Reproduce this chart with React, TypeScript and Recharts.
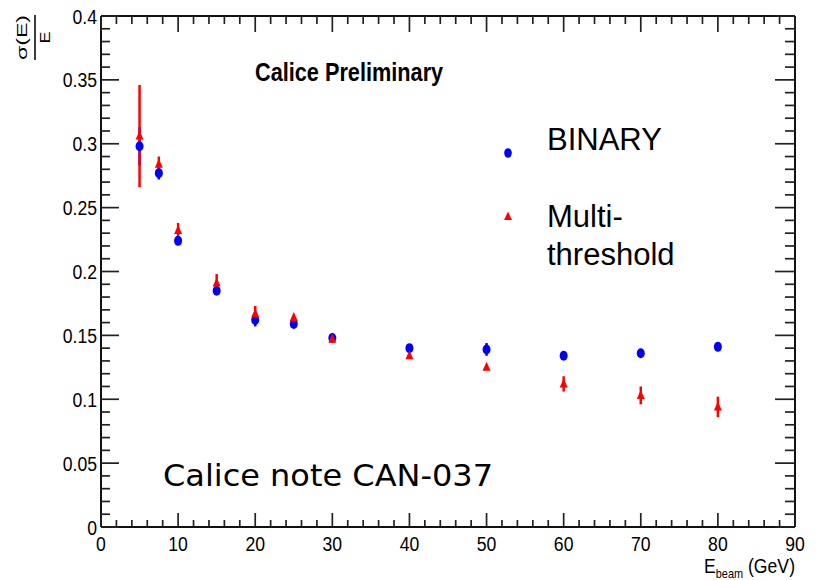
import React from "react";
import { ScatterChart, Scatter, XAxis, YAxis, ErrorBar } from "recharts";

// ---------- data ----------
const energies = [5, 7.5, 10, 15, 20, 25, 30, 40, 50, 60, 70, 80];
const binaryRes = [0.298, 0.277, 0.224, 0.185, 0.162, 0.159, 0.148, 0.14, 0.139, 0.134, 0.136, 0.141];
const binaryErr = [0.015, 0.005, 0.003, 0.003, 0.005, 0.002, 0.002, 0.002, 0.005, 0.002, 0.002, 0.002];
const multiRes = [0.306, 0.284, 0.232, 0.191, 0.167, 0.164, 0.147, 0.134, 0.125, 0.112, 0.103, 0.094];
const multiErr = [0.04, 0.006, 0.006, 0.007, 0.006, 0.002, 0.001, 0.001, 0.001, 0.006, 0.007, 0.008];

const xTicks = [0, 2, 4, 6, 8, 10, 12, 14, 16, 18, 20, 22, 24, 26, 28, 30, 32, 34, 36, 38, 40, 42, 44, 46, 48, 50, 52, 54, 56, 58, 60, 62, 64, 66, 68, 70, 72, 74, 76, 78, 80, 82, 84, 86, 88, 90];
const xMajorTicks = [0, 10, 20, 30, 40, 50, 60, 70, 80, 90];
const xTickLabels = ["0", "10", "20", "30", "40", "50", "60", "70", "80", "90"];

const yTicks = [0, 0.01, 0.02, 0.03, 0.04, 0.05, 0.06, 0.07, 0.08, 0.09, 0.1, 0.11, 0.12, 0.13, 0.14, 0.15, 0.16, 0.17, 0.18, 0.19, 0.2, 0.21, 0.22, 0.23, 0.24, 0.25, 0.26, 0.27, 0.28, 0.29, 0.3, 0.31, 0.32, 0.33, 0.34, 0.35, 0.36, 0.37, 0.38, 0.39, 0.4];
const yMajorTicks = [0, 0.05, 0.1, 0.15, 0.2, 0.25, 0.3, 0.35, 0.4];
const yTickLabels = ["0", "0.05", "0.1", "0.15", "0.2", "0.25", "0.3", "0.35", "0.4"];

const binaryData = energies.map((e, i) => ({ x: e, y: binaryRes[i], err: binaryErr[i] }));
const multiData = energies.map((e, i) => ({ x: e, y: multiRes[i], err: multiErr[i] }));

const FONT = "'Liberation Sans', Arial, Helvetica, sans-serif";
const SQUEEZE = 0.84;
const TICK_COLOR = "#222";

function majorIndex(majors: number[], v: number) {
  return majors.findIndex((m) => Math.abs(m - v) < 1e-9);
}

function makeTick(side: "left" | "right" | "bottom" | "top") {
  return (props: any) => {
    const { x, y, payload } = props;
    const v = payload.value;
    const isY = side === "left" || side === "right";
    const idx = majorIndex(isY ? yMajorTicks : xMajorTicks, v);
    const major = idx >= 0;
    const lens = { left: [18, 9], right: [20, 10], bottom: [14, 7], top: [16, 8] }[side];
    const len = major ? lens[0] : lens[1];
    let line;
    if (side === "left") line = <line x1={x} x2={x + len} y1={y} y2={y} stroke={TICK_COLOR} strokeWidth={1.7} />;
    else if (side === "right") line = <line x1={x} x2={x - len} y1={y} y2={y} stroke={TICK_COLOR} strokeWidth={1.7} />;
    else if (side === "bottom") line = <line x1={x} x2={x} y1={y} y2={y - len} stroke={TICK_COLOR} strokeWidth={1.7} />;
    else line = <line x1={x} x2={x} y1={y} y2={y + len} stroke={TICK_COLOR} strokeWidth={1.7} />;
    let label = null;
    if (major && side === "left") {
      label = (
        <text transform={`translate(${x - 4},${y}) scale(${SQUEEZE},1)`} textAnchor="end" dy="0.36em" fontSize={21} fontFamily={FONT} fill="#000">
          {yTickLabels[idx]}
        </text>
      );
    } else if (major && side === "bottom") {
      label = (
        <text transform={`translate(${x},${y + 23.5}) scale(${SQUEEZE},1)`} textAnchor="middle" fontSize={21} fontFamily={FONT} fill="#000">
          {xTickLabels[idx]}
        </text>
      );
    }
    return (
      <g>
        {line}
        {label}
      </g>
    );
  };
}

const BlueDot = (props: any) => {
  const { cx, cy } = props;
  if (cx == null || cy == null) return null;
  return <ellipse cx={cx} cy={cy} rx={4} ry={5} fill="#0000ff" />;
};

const RedTriangle = (props: any) => {
  const { cx, cy } = props;
  if (cx == null || cy == null) return null;
  return <polygon points={`${cx},${cy - 5.5} ${cx - 4},${cy + 3.5} ${cx + 4},${cy + 3.5}`} fill="#ff0000" />;
};

const axisLineStyle = { stroke: "#111", strokeWidth: 2 };

export default function App() {
  const W = 817;
  const H = 580;
  return (
    <div style={{ position: "absolute", left: 0, top: 0, width: W, height: H, background: "#fff" }}>
      <ScatterChart width={W} height={H} margin={{ top: 15, right: 21, bottom: 52, left: 100 }}>
        <XAxis
          xAxisId="bottom"
          type="number"
          dataKey="x"
          domain={[0, 90]}
          ticks={xTicks}
          interval={0}
          orientation="bottom"
          height={1}
          allowDataOverflow
          axisLine={axisLineStyle}
          tickLine={false}
          tickSize={0}
          tickMargin={0}
          tick={makeTick("bottom")}
        />
        <XAxis
          xAxisId="top"
          type="number"
          dataKey="x"
          domain={[0, 90]}
          ticks={xTicks}
          interval={0}
          orientation="top"
          height={1}
          allowDataOverflow
          axisLine={axisLineStyle}
          tickLine={false}
          tickSize={0}
          tickMargin={0}
          tick={makeTick("top")}
        />
        <YAxis
          yAxisId="left"
          type="number"
          dataKey="y"
          domain={[0, 0.4]}
          ticks={yTicks}
          interval={0}
          orientation="left"
          width={1}
          allowDataOverflow
          axisLine={axisLineStyle}
          tickLine={false}
          tickSize={0}
          tickMargin={0}
          tick={makeTick("left")}
        />
        <YAxis
          yAxisId="right"
          type="number"
          dataKey="y"
          domain={[0, 0.4]}
          ticks={yTicks}
          interval={0}
          orientation="right"
          width={1}
          allowDataOverflow
          axisLine={axisLineStyle}
          tickLine={false}
          tickSize={0}
          tickMargin={0}
          tick={makeTick("right")}
        />
        <Scatter name="BINARY" data={binaryData} xAxisId="bottom" yAxisId="left" shape={BlueDot} isAnimationActive={false}>
          <ErrorBar dataKey="err" direction="y" width={0} stroke="#0000ff" strokeWidth={2.5} isAnimationActive={false} />
        </Scatter>
        <Scatter name="Multi-threshold" data={multiData} xAxisId="bottom" yAxisId="left" shape={RedTriangle} isAnimationActive={false}>
          <ErrorBar dataKey="err" direction="y" width={0} stroke="#ff0000" strokeWidth={2.5} isAnimationActive={false} />
        </Scatter>
      </ScatterChart>
      <svg width={W} height={H} style={{ position: "absolute", left: 0, top: 0, pointerEvents: "none" }}>
        {/* y-axis title: sigma(E)/E */}
        <g transform="translate(35,37.5) rotate(-90) scale(1,0.85)" fontFamily={FONT} fill="#000">
          <text x={0} y={-10} textAnchor="middle" fontSize={17} textLength={45} lengthAdjust="spacingAndGlyphs">
            σ(E)
          </text>
          <line x1={-22.5} x2={22.5} y1={0} y2={0} stroke="#000" strokeWidth={1.8} />
          <text x={0} y={18} textAnchor="middle" fontSize={18}>
            E
          </text>
        </g>
        {/* x-axis title */}
        <text transform={`translate(795,573) scale(${SQUEEZE},1)`} textAnchor="end" fontSize={21} fontFamily={FONT} fill="#000">
          E
          <tspan fontSize={13} dy={5}>beam</tspan>
          <tspan dy={-5}> (GeV)</tspan>
        </text>
        {/* titles */}
        <text transform={`translate(255,81) scale(0.835,1)`} fontSize={26} fontWeight="bold" fontFamily={FONT} fill="#000">
          Calice Preliminary
        </text>
        <text x={163} y={486} fontSize={31} fontFamily="'DejaVu Sans', Verdana, sans-serif" fill="#000" textLength={330} lengthAdjust="spacingAndGlyphs">
          Calice note CAN-037
        </text>
        {/* legend */}
        <ellipse cx={508} cy={153} rx={3.8} ry={4.8} fill="#0000ff" />
        <text x={547} y={150} fontSize={31} fontFamily={FONT} fill="#000">BINARY</text>
        <polygon points="508,211.5 504,220 512,220" fill="#ff0000" />
        <text x={547} y={227} fontSize={31} fontFamily={FONT} fill="#000">Multi-</text>
        <text x={547} y={265} fontSize={31} fontFamily={FONT} fill="#000">threshold</text>
      </svg>
    </div>
  );
}
